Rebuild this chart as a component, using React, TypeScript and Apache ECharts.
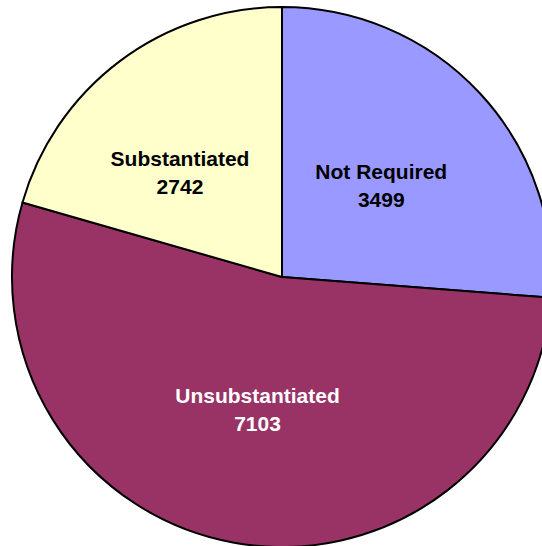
import React, { useEffect, useRef } from "react";
import * as echarts from "echarts";

const categories = ["Not Required", "Unsubstantiated", "Substantiated"];
const values = [3499, 7103, 2742];
const colors = ["#9999FF", "#993366", "#FFFFCC"];
const labelColors = ["#000000", "#FFFFFF", "#000000"];
const labelOffsets = [[-2, 2], [0, -3], [-19, 6]];

export default function App() {
  const ref = useRef<HTMLDivElement>(null);
  useEffect(() => {
    if (!ref.current) return;
    const chart = echarts.init(ref.current, null, { renderer: "svg" });
    chart.setOption({
      animation: false,
      series: [
        {
          type: "pie",
          center: [282, 277],
          radius: 270,
          startAngle: 90,
          clockwise: true,
          avoidLabelOverlap: false,
          itemStyle: { borderColor: "#000", borderWidth: 2 },
          label: {
            show: true,
            position: "inside",
            formatter: "{b}\n{c}",
            fontFamily: "Liberation Sans, Arial, sans-serif",
            fontWeight: "bold",
            fontSize: 21,
            lineHeight: 28,
            align: "center",
          },
          labelLine: { show: false },
          emphasis: { disabled: true },
          data: categories.map((name, i) => ({
            name,
            value: values[i],
            itemStyle: { color: colors[i] },
            label: { color: labelColors[i], offset: labelOffsets[i] },
          })),
        },
      ],
    });
    return () => chart.dispose();
  }, []);
  return (
    <div
      ref={ref}
      style={{ position: "fixed", left: 0, top: 0, width: 542, height: 546, background: "#fff" }}
    />
  );
}
